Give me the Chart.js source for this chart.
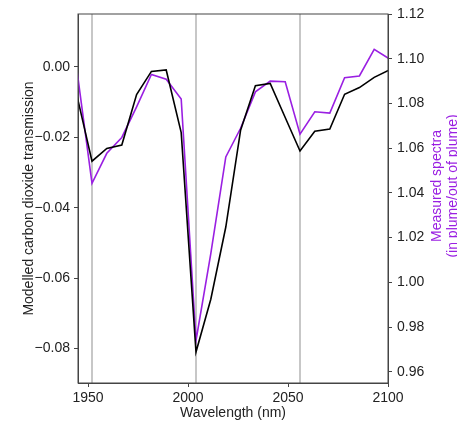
<!DOCTYPE html>
<html>
<head>
<meta charset="utf-8">
<script src="https://cdn.jsdelivr.net/npm/chart.js@4.4.1/dist/chart.umd.min.js"></script>
<style>
  html, body { margin: 0; padding: 0; background: #fff; }
  #wrap { width: 457px; height: 423px; }
</style>
</head>
<body>
<div id="wrap"><canvas id="myChart" width="457" height="423"></canvas></div>
<script>
// wavelengths of the samples (nm)
const wavelength = [1944.6, 1952.0, 1959.4, 1966.9, 1974.3, 1981.7, 1989.1, 1996.6, 2004.0, 2011.4, 2018.9,
  2026.3, 2033.7, 2041.1, 2048.6, 2056.0, 2063.4, 2070.9, 2078.3, 2085.7, 2093.1, 2100.6];
// modelled CO2 transmission (left axis)
const modelled = [-0.0085, -0.0268, -0.0232, -0.0222, -0.0079, -0.0013, -0.0009, -0.0187, -0.0810, -0.0660, -0.0455,
  -0.0180, -0.0054, -0.0047, -0.0144, -0.0239, -0.0183, -0.0177, -0.0078, -0.0059, -0.0030, -0.0009];
// measured spectra ratio (right axis)
const measured = [1.0940, 1.0443, 1.0577, 1.0648, 1.0785, 1.0930, 1.0908, 1.0820, 0.9740, 1.0128, 1.0561,
  1.0689, 1.0852, 1.0900, 1.0897, 1.0663, 1.0763, 1.0757, 1.0915, 1.0923, 1.1042, 1.1000];
// highlighted wavelengths (grey vertical lines)
const markerLines = [1952, 2004, 2056];
// tick labels
const xTicks = [1950, 2000, 2050, 2100];
const leftTicks = [-0.08, -0.06, -0.04, -0.02, 0.00];
const rightTicks = [0.96, 0.98, 1.00, 1.02, 1.04, 1.06, 1.08, 1.10, 1.12];

const FONT = '"Liberation Sans", Arial, sans-serif';
const PURPLE = '#9a1fe2';
const AXIS = '#444';

function fmt(v) {
  return v.toFixed(2).replace('-', '\u2212');
}

const frameAndTitles = {
  id: 'frameAndTitles',
  beforeDatasetsDraw(chart) {
    const { ctx, chartArea, scales } = chart;
    ctx.save();
    ctx.strokeStyle = '#b4b4b4';
    ctx.lineWidth = 1.5;
    markerLines.forEach(w => {
      const px = scales.x.getPixelForValue(w);
      ctx.beginPath();
      ctx.moveTo(px, chartArea.top);
      ctx.lineTo(px, chartArea.bottom);
      ctx.stroke();
    });
    ctx.restore();
  },
  afterDraw(chart) {
    const { ctx, chartArea } = chart;
    ctx.save();
    // top spine
    ctx.strokeStyle = AXIS;
    ctx.lineWidth = 1;
    ctx.strokeRect(chartArea.left, chartArea.top, chartArea.right - chartArea.left, chartArea.bottom - chartArea.top);

    ctx.font = '14px ' + FONT;
    ctx.textAlign = 'center';
    ctx.textBaseline = 'middle';

    // x title
    ctx.fillStyle = '#222';
    ctx.fillText('Wavelength (nm)', (chartArea.left + chartArea.right) / 2, 413);

    // left title
    ctx.save();
    ctx.translate(29, (chartArea.top + chartArea.bottom) / 2);
    ctx.rotate(-Math.PI / 2);
    ctx.fillText('Modelled carbon dioxide transmission', 0, 0);
    ctx.restore();

    // right title, two lines
    ctx.fillStyle = PURPLE;
    ctx.save();
    ctx.translate(437, 186);
    ctx.rotate(-Math.PI / 2);
    ctx.fillText('Measured spectra', 0, 0);
    ctx.fillText('(in plume/out of plume)', 0, 16);
    ctx.restore();

    ctx.restore();
  }
};

const config = {
  type: 'line',
  data: {
    datasets: [
      {
        label: 'Modelled',
        data: wavelength.map((w, i) => ({ x: w, y: modelled[i] })),
        borderColor: '#000',
        borderWidth: 1.6,
        pointRadius: 0,
        tension: 0,
        yAxisID: 'y'
      },
      {
        label: 'Measured',
        data: wavelength.map((w, i) => ({ x: w, y: measured[i] })),
        borderColor: PURPLE,
        borderWidth: 1.6,
        pointRadius: 0,
        tension: 0,
        yAxisID: 'y1'
      }
    ]
  },
  options: {
    responsive: false,
    animation: false,
    devicePixelRatio: 1,
    layout: { padding: { top: 14, left: 0, right: 0, bottom: 0 } },
    plugins: {
      legend: { display: false },
      tooltip: { enabled: false }
    },
    scales: {
      x: {
        type: 'linear',
        min: 1945,
        max: 2100,
        afterBuildTicks: s => { s.ticks = xTicks.map(v => ({ value: v })); },
        afterFit: s => { s.height = 40; },
        grid: { drawOnChartArea: false, drawTicks: true, tickLength: 4, color: AXIS },
        border: { display: true, color: AXIS },
        ticks: {
          color: '#222',
          font: { family: FONT, size: 14 },
          padding: 3,
          maxRotation: 0,
          callback: v => String(v)
        }
      },
      y: {
        position: 'left',
        min: -0.0898,
        max: 0.015,
        afterBuildTicks: s => { s.ticks = leftTicks.map(v => ({ value: v })); },
        afterFit: s => { s.width = 78; },
        grid: { drawOnChartArea: false, drawTicks: true, tickLength: 4, color: AXIS },
        border: { display: true, color: AXIS },
        ticks: {
          color: '#222',
          font: { family: FONT, size: 14 },
          padding: 4,
          callback: v => fmt(v)
        }
      },
      y1: {
        position: 'right',
        min: 0.955,
        max: 1.12,
        afterBuildTicks: s => { s.ticks = rightTicks.map(v => ({ value: v })); },
        afterFit: s => { s.width = 69; },
        grid: { drawOnChartArea: false, drawTicks: true, tickLength: 4, color: AXIS },
        border: { display: true, color: AXIS },
        ticks: {
          color: '#222',
          font: { family: FONT, size: 14 },
          padding: 5,
          callback: v => fmt(v)
        }
      }
    }
  },
  plugins: [frameAndTitles]
};

const myChart = new Chart(document.getElementById('myChart'), config);
</script>
</body>
</html>
